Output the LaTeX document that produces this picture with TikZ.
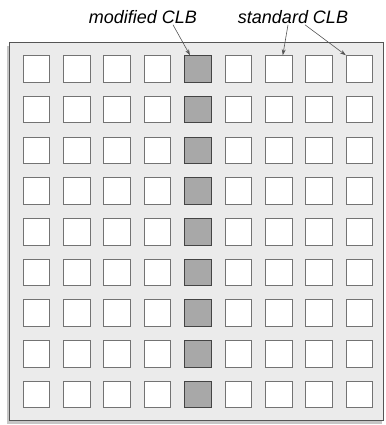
\documentclass[tikz,border=0pt]{standalone}
\usepackage{fontspec}
\setmainfont{Liberation Sans}
\usepackage{tikz}
\usetikzlibrary{arrows.meta,positioning,calc,shadows}
\definecolor{PanelGray}{RGB}{235,235,235}
\definecolor{EdgeGray}{RGB}{85,85,85}
\definecolor{BoxEdge}{RGB}{115,115,115}
\definecolor{ModFill}{RGB}{168,168,168}
\tikzset{
  clb/.style={draw=BoxEdge,fill=white,line width=1pt,minimum size=26.5pt,inner sep=0pt},
  modclb/.style={clb,draw=EdgeGray!80!black,fill=ModFill},
  tag/.style={font=\fontsize{18}{21}\selectfont\itshape,inner sep=1pt},
  pointer/.style={EdgeGray,line width=0.6pt,-{Stealth[length=6pt,width=4pt,inset=2pt]}}
}
\begin{document}
\begin{tikzpicture}[x=1pt,y=1pt]
\useasboundingbox(0,0)rectangle(385,425);
% FPGA panel
\draw[EdgeGray,line width=1pt,fill=PanelGray,
  drop shadow={shadow xshift=-2pt,shadow yshift=-3pt,opacity=0.45}]
  (9,4)rectangle(383.5,382);
% CLB array
\foreach \r in {0,...,8}{
  \foreach \c in {0,...,8}{
    \ifnum\c=4
      \node[modclb](clb-\r-\c)at(36.4+40.4*\c,356-40.7*\r){};
    \else
      \node[clb](clb-\r-\c)at(36.4+40.4*\c,356-40.7*\r){};
    \fi
  }
}
% Labels
\node[tag](mod)at(143,408){modified CLB};
\node[tag](std)at(293,408){standard CLB};
\draw[pointer]([xshift=30pt]mod.south)--([xshift=-8pt]clb-0-4.north);
\draw[pointer]([xshift=-5pt]std.south)--([xshift=4pt]clb-0-6.north);
\draw[pointer]([xshift=12pt]std.south)--(clb-0-8.north west);
\end{tikzpicture}
\end{document}
